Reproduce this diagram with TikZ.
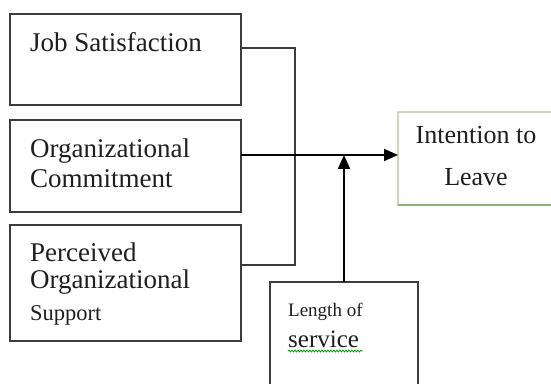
\documentclass[tikz,border=0pt]{standalone}
\usepackage{fontspec}
\setmainfont{Liberation Serif}
\usepackage{tikz}
\usetikzlibrary{positioning,arrows.meta,decorations.pathmorphing}

\definecolor{ink}{RGB}{30,30,30}
\definecolor{boxline}{RGB}{60,60,60}
\definecolor{paleleaf}{RGB}{200,220,188}
\definecolor{leaf}{RGB}{140,180,120}

\tikzset{
  box/.style={draw=boxline, line width=2pt, minimum width=231pt, outer sep=0pt, inner sep=0pt},
  lbl/.style={anchor=north west, inner sep=0pt, align=left, text=ink,
              font=\fontsize{27}{30}\selectfont},
  wire/.style={draw=boxline, line width=2pt},
  flow/.style={draw=black, line width=2pt, -{Triangle[length=14pt,width=12pt]}},
}

\begin{document}
\begin{tikzpicture}[x=1pt, y=1pt]
    \useasboundingbox (0,0) rectangle (551,383);

    % the three drivers on the left
    \node[box, minimum height=91pt] (js) at (125.5,323.5) {};
    \node[box, minimum height=92pt, below=15pt of js] (oc) {};
    \node[box, minimum height=116pt, below=13pt of oc] (pos) {};

    \node[lbl] (jsText) at ([shift={(20,-18)}]js.north west) {Job Satisfaction};
    \node[lbl] (ocText) at ([shift={(20,-19)}]oc.north west) {Organizational\\Commitment};
    \node[lbl] (posText) at ([shift={(20,-18)}]pos.north west)
        {Perceived\\[-3pt]Organizational\\[2pt]{\fontsize{22.5}{24}\selectfont Support}};

    % outcome and moderator
    \node[draw=paleleaf, line width=1.5pt, minimum width=162pt, minimum height=93pt,
          outer sep=0pt, inner sep=0pt] (itl) at (479,224.5) {};
    \draw[leaf, line width=1.5pt] (itl.south west) -- (itl.south east);
    \node[inner sep=0pt, align=center, text=ink, anchor=north,
          font=\fontsize{26}{42}\selectfont] (itlText) at ([shift={(-3,-14)}]itl.north) {Intention to\\Leave};

    \node[box, minimum width=148pt, minimum height=121pt] (los) at (344,40.5) {};
    \node[lbl, font=\fontsize{19}{31}\selectfont] (losText) at ([shift={(18,-21)}]los.north west)
        {Length of\\{\fontsize{25}{31}\selectfont service}};
    \draw[green!60!black, line width=0.8pt, decorate,
          decoration={snake, amplitude=0.9pt, segment length=3pt}]
        ([yshift=-3pt]losText.south west) -- ([yshift=-3pt]losText.south east);

    % connectors
    \draw[wire] ([yshift=11.5pt]js.east) -- ++(54,0) |- ([yshift=18pt]pos.east);
    \draw[flow] ([yshift=11pt]oc.east) coordinate (m) -- (m -| itl.west);
    \draw[flow] (los.north) -- (los.north |- m);

\end{tikzpicture}
\end{document}
